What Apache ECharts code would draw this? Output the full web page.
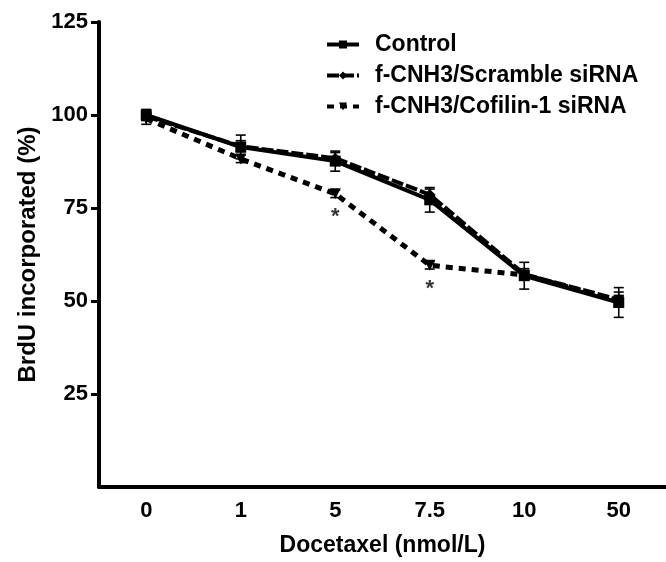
<!DOCTYPE html>
<html>
<head>
<meta charset="utf-8">
<script src="https://cdn.jsdelivr.net/npm/echarts@6/dist/echarts.min.js"></script>
<style>
html,body{margin:0;padding:0;background:#fff;}
#chart{width:666px;height:562px;}
</style>
</head>
<body>
<div id="chart"></div>
<script>
var categories = ['0', '1', '5', '7.5', '10', '50'];
var yTicks = [25, 50, 75, 100, 125];

var controlValues = [100, 91.4, 87.6, 77.2, 56.8, 49.6];
var controlErr    = [1.5, 3.2, 2.7, 3.3, 3.6, 4.0];

var scrambleValues = [99.6, 91.6, 88.4, 78.6, 57.2, 50.4];
var scrambleErr    = [1.0, 1.5, 1.5, 1.5, 1.5, 2.0];

var cofilinValues = [99.0, 88.2, 78.8, 59.6, 57.0, 50.0];
var cofilinErr    = [1.5, 1.0, 1.0, 1.0, 1.0, 1.5];

var asteriskCats   = ['5', '7.5'];
var asteriskValues = [72.6, 53.2];

var FONT = '"Liberation Sans", Arial, Helvetica, sans-serif';

function errData(vals, errs) {
  return vals.map(function (v, i) { return [i, v - errs[i], v + errs[i]]; });
}

function errSeries(vals, errs) {
  return {
    type: 'custom',
    silent: true,
    z: 1,
    data: errData(vals, errs),
    encode: { x: 0, y: [1, 2] },
    renderItem: function (params, api) {
      var x = api.value(0);
      var lo = api.coord([x, api.value(1)]);
      var hi = api.coord([x, api.value(2)]);
      var hw = 5;
      var st = { stroke: '#000', lineWidth: 1.6 };
      return {
        type: 'group',
        children: [
          { type: 'line', shape: { x1: lo[0], y1: lo[1], x2: hi[0], y2: hi[1] }, style: st },
          { type: 'line', shape: { x1: lo[0] - hw, y1: lo[1], x2: lo[0] + hw, y2: lo[1] }, style: st },
          { type: 'line', shape: { x1: hi[0] - hw, y1: hi[1], x2: hi[0] + hw, y2: hi[1] }, style: st }
        ]
      };
    }
  };
}

var chart = echarts.init(document.getElementById('chart'), null, { renderer: 'canvas' });

chart.setOption({
  animation: false,
  backgroundColor: '#fff',
  textStyle: { fontFamily: FONT, color: '#000' },
  grid: { left: 99, right: 0, top: 22, bottom: 70, containLabel: false },
  legend: {
    data: ['Control', 'f-CNH3/Scramble siRNA', 'f-CNH3/Cofilin-1 siRNA'],
    orient: 'vertical',
    left: 320,
    top: 28,
    itemWidth: 32,
    itemHeight: 10,
    itemGap: 8,
    lineStyle: { width: 4 },
    textStyle: { fontFamily: FONT, fontWeight: 'bold', fontSize: 23, color: '#000', padding: [0, 0, 0, 11] }
  },
  xAxis: {
    type: 'category',
    data: categories,
    boundaryGap: true,
    name: 'Docetaxel (nmol/L)',
    nameLocation: 'middle',
    nameGap: 47,
    nameTextStyle: { fontFamily: FONT, fontWeight: 'bold', fontSize: 23, color: '#000' },
    axisLine: { lineStyle: { color: '#000', width: 4 } },
    axisTick: { alignWithLabel: true, length: 8, lineStyle: { color: '#000', width: 3 } },
    axisLabel: { margin: 13, fontFamily: FONT, fontWeight: 'bold', fontSize: 22, color: '#000' },
    splitLine: { show: false }
  },
  yAxis: {
    type: 'value',
    min: 0,
    max: 125,
    interval: 25,
    name: 'BrdU incorporated (%)',
    nameLocation: 'middle',
    nameGap: 53,
    nameTextStyle: { fontFamily: FONT, fontWeight: 'bold', fontSize: 24, color: '#000' },
    axisLine: { show: true, lineStyle: { color: '#000', width: 4 } },
    axisTick: { show: true, length: 8, customValues: yTicks, lineStyle: { color: '#000', width: 3 } },
    axisLabel: { margin: 11, customValues: yTicks, fontFamily: FONT, fontWeight: 'bold', fontSize: 22, color: '#000' },
    splitLine: { show: false }
  },
  series: [
    errSeries(controlValues, controlErr),
    errSeries(scrambleValues, scrambleErr),
    errSeries(cofilinValues, cofilinErr),
    {
      name: 'Control',
      type: 'line',
      data: controlValues,
      symbol: 'rect',
      symbolSize: 11,
      z: 3,
      lineStyle: { color: '#000', width: 4, type: 'solid' },
      itemStyle: { color: '#000' }
    },
    {
      name: 'f-CNH3/Scramble siRNA',
      type: 'line',
      data: scrambleValues,
      symbol: 'diamond',
      symbolSize: 11,
      z: 4,
      lineStyle: { color: '#000', width: 4, type: [12, 3] },
      itemStyle: { color: '#000' }
    },
    {
      name: 'f-CNH3/Cofilin-1 siRNA',
      type: 'line',
      data: cofilinValues,
      symbol: 'triangle',
      symbolRotate: 180,
      symbolSize: 11,
      z: 3,
      lineStyle: { color: '#000', width: 5, type: [7, 6] },
      itemStyle: { color: '#000' }
    },
    {
      type: 'scatter',
      silent: true,
      symbolSize: 0,
      data: asteriskCats.map(function (c, i) { return [c, asteriskValues[i]]; }),
      label: {
        show: true,
        position: 'inside',
        formatter: '*',
        fontFamily: FONT,
        fontWeight: 'bold',
        fontSize: 22,
        color: '#000'
      }
    }
  ]
});
</script>
</body>
</html>
